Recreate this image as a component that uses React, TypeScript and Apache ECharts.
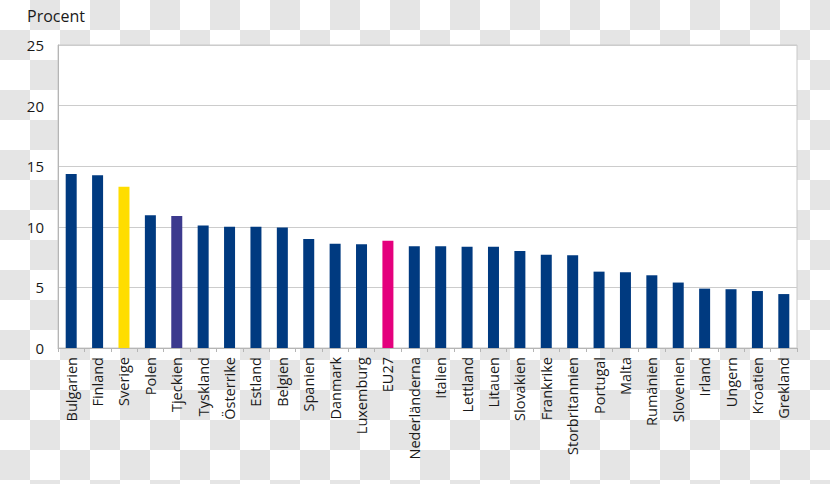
import React, { useEffect, useRef } from "react";
import * as echarts from "echarts";

const categories = [
  "Bulgarien", "Finland", "Sverige", "Polen", "Tjeckien", "Tyskland", "Österrike",
  "Estland", "Belgien", "Spanien", "Danmark", "Luxemburg", "EU27", "Nederländerna",
  "Italien", "Lettland", "Litauen", "Slovakien", "Frankrike", "Storbritannien",
  "Portugal", "Malta", "Rumänien", "Slovenien", "Irland", "Ungern", "Kroatien", "Grekland",
];
const values = [
  14.35, 14.25, 13.3, 10.95, 10.9, 10.1, 10.0, 10.0, 9.95, 9.0, 8.6, 8.55, 8.85, 8.4,
  8.4, 8.35, 8.35, 8.0, 7.7, 7.65, 6.3, 6.25, 6.0, 5.4, 4.9, 4.85, 4.7, 4.45,
];
const highlight: Record<string, string> = {
  Sverige: "#FFDD00",
  Tjeckien: "#3C3A8E",
  EU27: "#E4007D",
};
const defaultColor = "#003A80";
const yTicks = [0, 5, 10, 15, 20, 25];
const yTitle = "Procent";

export default function App() {
  const ref = useRef<HTMLDivElement>(null);
  useEffect(() => {
    if (!ref.current) return;
    const chart = echarts.init(ref.current, null, { renderer: "svg" });
    const font = "'Open Sans', 'Noto Sans', sans-serif";
    chart.setOption({
      animation: false,
      backgroundColor: "transparent",
      textStyle: { fontFamily: font },
      graphic: [
        {
          type: "text",
          left: 27,
          top: 8,
          style: { text: yTitle, fontSize: 16, fill: "#1a1a1a", fontFamily: font },
        },
      ],
      grid: {
        left: 58,
        right: 33,
        top: 45,
        bottom: 136,
        show: true,
        backgroundColor: "#ffffff",
        borderColor: "#c8c8c8",
        borderWidth: 1,
      },
      xAxis: {
        type: "category",
        data: categories,
        axisLine: { lineStyle: { color: "#b5b5b5" } },
        axisTick: { show: true, length: 4, lineStyle: { color: "#b5b5b5" } },
        axisLabel: {
          rotate: 90,
          interval: 0,
          fontSize: 14.5,
          color: "#1a1a1a",
          margin: 9,
          fontFamily: font,
        },
      },
      yAxis: {
        type: "value",
        min: yTicks[0],
        max: yTicks[yTicks.length - 1],
        interval: 5,
        axisLine: { show: true, lineStyle: { color: "#b5b5b5" } },
        axisTick: { show: false },
        splitLine: { lineStyle: { color: "#cccccc" } },
        axisLabel: { fontSize: 15, color: "#1a1a1a", margin: 14, fontFamily: font },
      },
      series: [
        {
          type: "bar",
          barWidth: 11,
          data: values.map((v, i) => ({
            value: v,
            itemStyle: { color: highlight[categories[i]] || defaultColor },
          })),
        },
      ],
    });
    return () => chart.dispose();
  }, []);
  return (
    <div
      style={{
        position: "absolute",
        left: 0,
        top: 0,
        width: 830,
        height: 484,
        backgroundColor: "#ffffff",
        backgroundImage:
          "conic-gradient(#e5e5e5 25%, #ffffff 0 50%, #e5e5e5 0 75%, #ffffff 0)",
        backgroundSize: "60px 60px",
      }}
    >
      <div ref={ref} style={{ width: 830, height: 484 }} />
    </div>
  );
}
